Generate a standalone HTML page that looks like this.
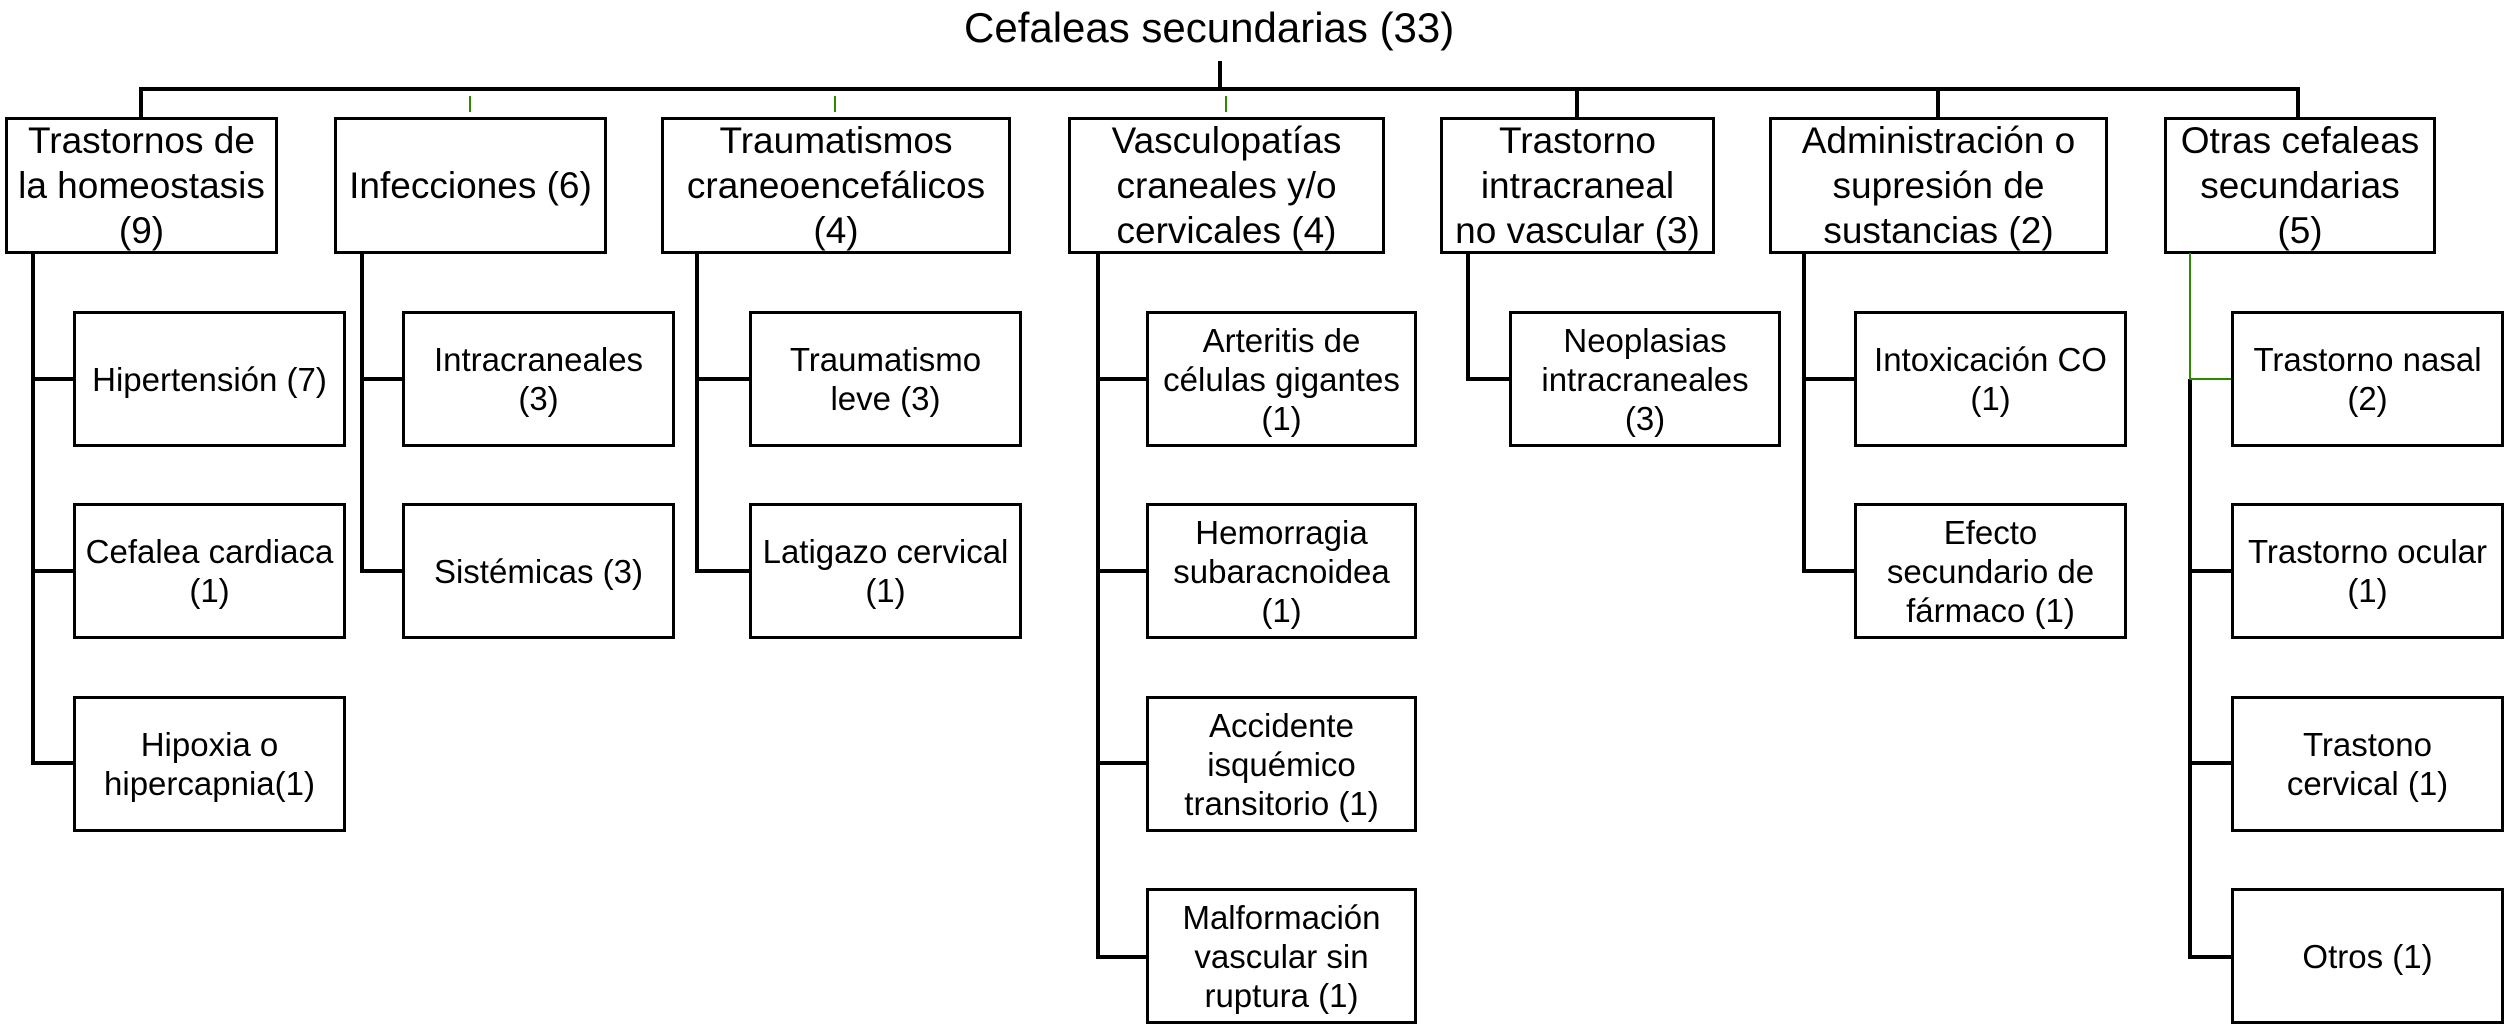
<!DOCTYPE html>
<html><head><meta charset="utf-8"><style>
body{margin:0;background:#fff;}
#c{position:relative;width:2508px;height:1029px;overflow:hidden;background:#fff;font-family:"Liberation Sans",sans-serif;color:#000;}
.b{position:absolute;box-sizing:border-box;border:3px solid #000;background:#fff;display:flex;align-items:center;justify-content:center;text-align:center;line-height:1.18;}
.l1{font-size:37px;line-height:45px;top:117px;height:137px;}
.l2{font-size:33px;line-height:39px;height:136px;}
.ln{position:absolute;background:#000;}
.g{position:absolute;background:#2a8a00;}
</style></head><body><div id="c">
<div style="position:absolute;left:964px;top:4px;font-size:42px;white-space:nowrap;">Cefaleas secundarias (33)</div>
<div class="ln" style="left:1218px;top:61px;width:4px;height:30px"></div>
<div class="ln" style="left:139px;top:87px;width:2161px;height:4px"></div>
<div class="ln" style="left:139px;top:87px;width:4px;height:31px"></div>
<div class="g" style="left:469px;top:96px;width:2px;height:16px"></div>
<div class="g" style="left:834px;top:96px;width:2px;height:16px"></div>
<div class="g" style="left:1225px;top:96px;width:2px;height:16px"></div>
<div class="ln" style="left:1575px;top:87px;width:4px;height:31px"></div>
<div class="ln" style="left:1936px;top:87px;width:4px;height:31px"></div>
<div class="ln" style="left:2296px;top:87px;width:4px;height:31px"></div>

<div class="b l1" style="left:5px;width:273px">Trastornos de<br>la homeostasis<br>(9)</div>
<div class="b l1" style="left:334px;width:273px">Infecciones (6)</div>
<div class="b l1" style="left:661px;width:350px">Traumatismos<br>craneoencefálicos<br>(4)</div>
<div class="b l1" style="left:1068px;width:317px">Vasculopatías<br>craneales y/o<br>cervicales (4)</div>
<div class="b l1" style="left:1440px;width:275px">Trastorno<br>intracraneal<br>no vascular (3)</div>
<div class="b l1" style="left:1769px;width:339px">Administración o<br>supresión de<br>sustancias (2)</div>
<div class="b l1" style="left:2164px;width:272px">Otras cefaleas<br>secundarias<br>(5)</div>

<!-- trunks -->
<div class="ln" style="left:31px;top:253px;width:4px;height:512px"></div>
<div class="ln" style="left:360px;top:253px;width:4px;height:320px"></div>
<div class="ln" style="left:695px;top:253px;width:4px;height:320px"></div>
<div class="ln" style="left:1096px;top:253px;width:4px;height:706px"></div>
<div class="ln" style="left:1466px;top:253px;width:4px;height:128px"></div>
<div class="ln" style="left:1802px;top:253px;width:4px;height:320px"></div>
<div class="g" style="left:2189px;top:253px;width:2px;height:128px"></div>
<div class="ln" style="left:2188px;top:379px;width:4px;height:580px"></div>
<!-- stubs -->
<div class="ln" style="left:31px;top:377px;width:44px;height:4px"></div>
<div class="ln" style="left:31px;top:569px;width:44px;height:4px"></div>
<div class="ln" style="left:31px;top:761px;width:44px;height:4px"></div>
<div class="ln" style="left:360px;top:377px;width:44px;height:4px"></div>
<div class="ln" style="left:360px;top:569px;width:44px;height:4px"></div>
<div class="ln" style="left:695px;top:377px;width:56px;height:4px"></div>
<div class="ln" style="left:695px;top:569px;width:56px;height:4px"></div>
<div class="ln" style="left:1096px;top:377px;width:52px;height:4px"></div>
<div class="ln" style="left:1096px;top:569px;width:52px;height:4px"></div>
<div class="ln" style="left:1096px;top:761px;width:52px;height:4px"></div>
<div class="ln" style="left:1096px;top:955px;width:52px;height:4px"></div>
<div class="ln" style="left:1466px;top:377px;width:45px;height:4px"></div>
<div class="ln" style="left:1802px;top:377px;width:54px;height:4px"></div>
<div class="ln" style="left:1802px;top:569px;width:54px;height:4px"></div>
<div class="g" style="left:2189px;top:378px;width:44px;height:2px"></div>
<div class="ln" style="left:2188px;top:569px;width:45px;height:4px"></div>
<div class="ln" style="left:2188px;top:761px;width:45px;height:4px"></div>
<div class="ln" style="left:2188px;top:955px;width:45px;height:4px"></div>

<div class="b l2" style="left:73px;top:311px;width:273px">Hipertensión (7)</div>
<div class="b l2" style="left:73px;top:503px;width:273px">Cefalea cardiaca<br>(1)</div>
<div class="b l2" style="left:73px;top:696px;width:273px">Hipoxia o<br>hipercapnia(1)</div>
<div class="b l2" style="left:402px;top:311px;width:273px">Intracraneales<br>(3)</div>
<div class="b l2" style="left:402px;top:503px;width:273px">Sistémicas (3)</div>
<div class="b l2" style="left:749px;top:311px;width:273px">Traumatismo<br>leve (3)</div>
<div class="b l2" style="left:749px;top:503px;width:273px">Latigazo cervical<br>(1)</div>
<div class="b l2" style="left:1146px;top:311px;width:271px">Arteritis de<br>células gigantes<br>(1)</div>
<div class="b l2" style="left:1146px;top:503px;width:271px">Hemorragia<br>subaracnoidea<br>(1)</div>
<div class="b l2" style="left:1146px;top:696px;width:271px">Accidente<br>isquémico<br>transitorio (1)</div>
<div class="b l2" style="left:1146px;top:888px;width:271px">Malformación<br>vascular sin<br>ruptura (1)</div>
<div class="b l2" style="left:1509px;top:311px;width:272px">Neoplasias<br>intracraneales<br>(3)</div>
<div class="b l2" style="left:1854px;top:311px;width:273px">Intoxicación CO<br>(1)</div>
<div class="b l2" style="left:1854px;top:503px;width:273px">Efecto<br>secundario de<br>fármaco (1)</div>
<div class="b l2" style="left:2231px;top:311px;width:273px">Trastorno nasal<br>(2)</div>
<div class="b l2" style="left:2231px;top:503px;width:273px">Trastorno ocular<br>(1)</div>
<div class="b l2" style="left:2231px;top:696px;width:273px">Trastono<br>cervical (1)</div>
<div class="b l2" style="left:2231px;top:888px;width:273px">Otros (1)</div>
</div></body></html>
